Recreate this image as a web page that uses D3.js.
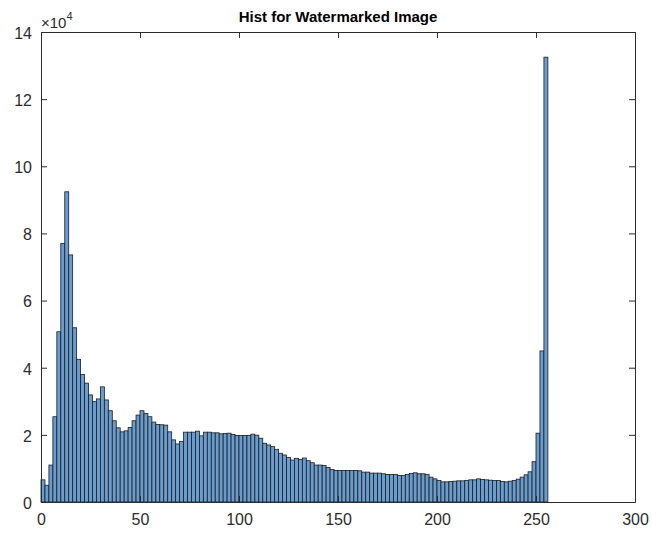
<!DOCTYPE html>
<html>
<head>
<meta charset="utf-8">
<script src="https://cdn.jsdelivr.net/npm/d3@7"></script>
<style>
  html, body { margin: 0; padding: 0; background: #ffffff; }
  svg { display: block; }
  text { font-family: "Liberation Sans", Arial, Helvetica, sans-serif; }
</style>
</head>
<body>
<svg id="chart" width="652" height="535"></svg>
<script>
// ---- data ----
const chartTitle = "Hist for Watermarked Image";
const binWidth = 2;               // bins: [0,2), [2,4), ..., [254,256)
const binCounts = [
  6600, 5000, 11000, 25400, 50700, 77000, 92400, 73600, 51900, 42500,
  38000, 35400, 31900, 29900, 30700, 34300, 30400, 27200, 24200, 22100,
  20900, 21200, 22200, 24200, 25900, 27200, 26400, 25400, 23800, 23100,
  23000, 22900, 20900, 18500, 17300, 18000, 20800, 20800, 20800, 21100,
  19700, 20800, 20800, 20600, 20600, 20300, 20400, 20500, 20100, 19800,
  19800, 19800, 19800, 20200, 19900, 19000, 17500, 17000, 16500, 15700,
  14500, 14000, 13300, 12500, 13000, 12700, 13100, 12300, 11700, 11000,
  11000, 10900, 10300, 9700, 9400, 9400, 9400, 9400, 9400, 9400,
  9300, 8900, 8900, 8600, 8600, 8600, 8400, 8200, 8200, 8200,
  7900, 7900, 8200, 8500, 8700, 8400, 8400, 8200, 7400, 6900,
  6400, 6000, 6000, 6100, 6200, 6300, 6300, 6400, 6600, 6600,
  6900, 6700, 6600, 6500, 6400, 6400, 6100, 6000, 6200, 6400,
  6800, 7400, 8100, 9000, 12000, 20500, 45000, 132500
];
const xTickValues = [0, 50, 100, 150, 200, 250, 300];
const yTickValues = [0, 20000, 40000, 60000, 80000, 100000, 120000, 140000];
const yTickLabels = ["0", "2", "4", "6", "8", "10", "12", "14"];
const yExponentLabel = "4";

// ---- layout ----
const svg = d3.select("#chart");
const mLeft = 41, mRight = 635, mTop = 32, mBottom = 502;
const axisColor = "#2b2b2b";

const x = d3.scaleLinear().domain([0, 300]).range([mLeft, mRight]);
const y = d3.scaleLinear().domain([0, 140000]).range([mBottom, mTop]);

// bars
svg.append("g")
  .selectAll("rect")
  .data(binCounts)
  .join("rect")
  .attr("x", (d, i) => x(i * binWidth))
  .attr("width", (d, i) => x((i + 1) * binWidth) - x(i * binWidth))
  .attr("y", d => y(d))
  .attr("height", d => y(0) - y(d))
  .attr("fill", "#6a9dcf")
  .attr("stroke", "#1c1c1c")
  .attr("stroke-width", 0.8);

const tickLen = 6;

const xAxisBottom = svg.append("g")
  .attr("transform", `translate(0,${mBottom})`)
  .call(d3.axisBottom(x).tickValues(xTickValues).tickSizeInner(-tickLen).tickSizeOuter(0).tickPadding(14));
const xAxisTop = svg.append("g")
  .attr("transform", `translate(0,${mTop})`)
  .call(d3.axisTop(x).tickValues(xTickValues).tickSizeInner(-tickLen).tickSizeOuter(0).tickFormat(""));
const yAxisLeft = svg.append("g")
  .attr("transform", `translate(${mLeft},0)`)
  .call(d3.axisLeft(y).tickValues(yTickValues).tickSizeInner(-tickLen).tickSizeOuter(0).tickPadding(14)
    .tickFormat((d, i) => yTickLabels[i]));
const yAxisRight = svg.append("g")
  .attr("transform", `translate(${mRight},0)`)
  .call(d3.axisRight(y).tickValues(yTickValues).tickSizeInner(-tickLen).tickSizeOuter(0).tickFormat(""));

[xAxisBottom, xAxisTop, yAxisLeft, yAxisRight].forEach(g => {
  g.select(".domain").attr("stroke", axisColor).attr("stroke-width", 1);
  g.selectAll(".tick line").attr("stroke", axisColor).attr("stroke-width", 1);
  g.selectAll(".tick text")
    .attr("fill", axisColor)
    .attr("font-size", 16)
    .attr("font-family", "'Liberation Sans', Arial, sans-serif");
});
xAxisBottom.selectAll(".tick text").attr("dy", "0.71em").attr("y", 12);
yAxisLeft.selectAll(".tick text").attr("x", -9).attr("dy", "0.4em");

// exponent label
const expText = svg.append("text")
  .attr("x", 41)
  .attr("y", 28)
  .attr("fill", axisColor)
  .attr("font-size", 15);
expText.append("tspan").text("\u00d710");
expText.append("tspan").attr("font-size", 11).attr("dy", -8).text(yExponentLabel);

// title
svg.append("text")
  .attr("x", (mLeft + mRight) / 2)
  .attr("y", 22)
  .attr("text-anchor", "middle")
  .attr("font-size", 15)
  .attr("font-weight", "bold")
  .attr("fill", "#000")
  .text(chartTitle);
</script>
</body>
</html>
